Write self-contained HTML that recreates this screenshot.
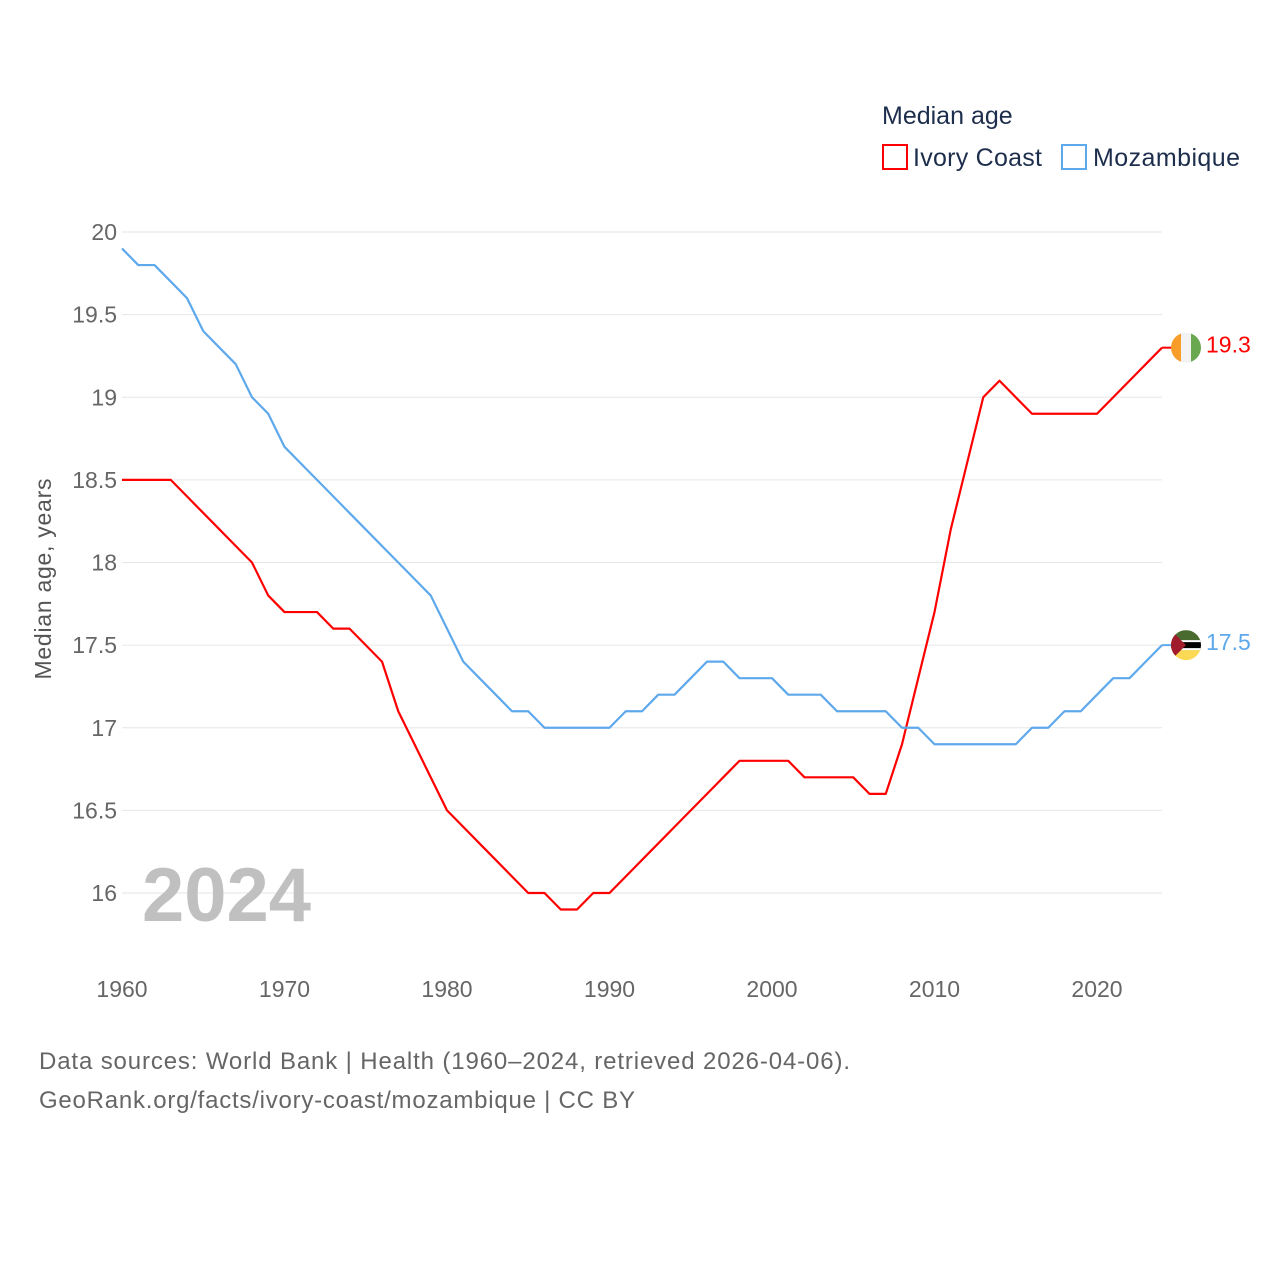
<!DOCTYPE html>
<html><head><meta charset="utf-8"><style>
html,body{margin:0;padding:0;background:#fff;}
body{width:1280px;height:1280px;overflow:hidden;font-family:"Liberation Sans",sans-serif;}
</style></head><body>
<svg id="chart" width="1280" height="1280" xmlns="http://www.w3.org/2000/svg" font-family="Liberation Sans, sans-serif">
<g>
<text x="882" y="124" font-size="25" fill="#1d2e4c">Median age</text>
<rect x="883" y="145" width="24" height="24" fill="none" stroke="#ff0000" stroke-width="2"/>
<text x="913" y="166" font-size="25" fill="#1d2e4c" textLength="129">Ivory Coast</text>
<rect x="1062" y="145" width="24" height="24" fill="none" stroke="#5ea8ec" stroke-width="2"/>
<text x="1093" y="166" font-size="25" fill="#1d2e4c" textLength="147">Mozambique</text>
</g>
<g id="grid"></g>
<g id="yticks"></g>
<g id="xticks"></g>
<text transform="translate(51,579) rotate(-90)" text-anchor="middle" font-size="23" fill="#555" textLength="201">Median age, years</text>
<text x="142" y="921" font-size="76" font-weight="bold" fill="#c0c0c0">2024</text>
<g id="series"></g>
<text x="39" y="1069" font-size="24" fill="#666" textLength="811">Data sources: World Bank | Health (1960–2024, retrieved 2026-04-06).</text>
<text x="39" y="1108" font-size="24" fill="#666" textLength="596">GeoRank.org/facts/ivory-coast/mozambique | CC BY</text>
</svg>
<script>
const years = [];
for (let y = 1960; y <= 2024; y++) years.push(y);
const ivoryCoast = [18.5,18.5,18.5,18.5,18.4,18.3,18.2,18.1,18.0,17.8,17.7,17.7,17.7,17.6,17.6,17.5,17.4,17.1,16.9,16.7,16.5,16.4,16.3,16.2,16.1,16.0,16.0,15.9,15.9,16.0,16.0,16.1,16.2,16.3,16.4,16.5,16.6,16.7,16.8,16.8,16.8,16.8,16.7,16.7,16.7,16.7,16.6,16.6,16.9,17.3,17.7,18.2,18.6,19.0,19.1,19.0,18.9,18.9,18.9,18.9,18.9,19.0,19.1,19.2,19.3];
const mozambique = [19.9,19.8,19.8,19.7,19.6,19.4,19.3,19.2,19.0,18.9,18.7,18.6,18.5,18.4,18.3,18.2,18.1,18.0,17.9,17.8,17.6,17.4,17.3,17.2,17.1,17.1,17.0,17.0,17.0,17.0,17.0,17.1,17.1,17.2,17.2,17.3,17.4,17.4,17.3,17.3,17.3,17.2,17.2,17.2,17.1,17.1,17.1,17.1,17.0,17.0,16.9,16.9,16.9,16.9,16.9,16.9,17.0,17.0,17.1,17.1,17.2,17.3,17.3,17.4,17.5];
const yTicks = [16,16.5,17,17.5,18,18.5,19,19.5,20];
const xTicks = [1960,1970,1980,1990,2000,2010,2020];

const NS = "http://www.w3.org/2000/svg";
const xS = y => 122 + (y - 1960) * (975 / 60);
const yS = v => 893 - (v - 16) * 165.25;
function mk(tag, attrs, parent) {
  const e = document.createElementNS(NS, tag);
  for (const k in attrs) e.setAttribute(k, attrs[k]);
  parent.appendChild(e); return e;
}
const grid = document.getElementById('grid'), yt = document.getElementById('yticks'), xt = document.getElementById('xticks'), ser = document.getElementById('series');
yTicks.forEach(v => {
  const l = mk('line', {x1:122, x2:1162, y1:yS(v), y2:yS(v), stroke:'#e6e6e6', 'stroke-width':1}, grid);
  
  
  const t = mk('text', {x:117, y:yS(v)+8, 'text-anchor':'end', 'font-size':23, fill:'#666'}, yt);
  
  
  t.textContent = v;
});
xTicks.forEach(v => {
  const t = mk('text', {x:xS(v), y:997, 'text-anchor':'middle', 'font-size':23, fill:'#666'}, xt);
  
  
  t.textContent = v;
});
function drawLine(vals, color, name) {
  const d = vals.map((v,i) => (i?'L':'M') + xS(years[i]).toFixed(2) + ',' + yS(v).toFixed(2)).join(' ');
  const p = mk('path', {d:d, fill:'none', stroke:color, 'stroke-width':2.2, 'stroke-linejoin':'round'}, ser);
  
  
  const last = vals[vals.length-1], ly = yS(last), lx = xS(years[years.length-1]);
  const c = mk('line', {x1:lx, x2:lx+10, y1:ly, y2:ly, stroke:color, 'stroke-width':2}, ser);
  
  
  const t = mk('text', {x:1206, y:ly+5, 'font-size':23, fill:color}, ser);
  
  
  t.textContent = last;
  return ly;
}
const yIC = drawLine(ivoryCoast, '#ff0000', 'ivory-coast');
const yMZ = drawLine(mozambique, '#5ea8ec', 'mozambique');
const g1 = mk('g', {}, ser);


const cp1 = mk('clipPath', {id:'c1'}, g1); mk('circle', {cx:1186, cy:yIC, r:15}, cp1);
mk('rect', {x:1171, y:yIC-15, width:10, height:30, fill:'#f99d2a', 'clip-path':'url(#c1)'}, g1);
mk('rect', {x:1181, y:yIC-15, width:10, height:30, fill:'#f2f2f2', 'clip-path':'url(#c1)'}, g1);
mk('rect', {x:1191, y:yIC-15, width:10, height:30, fill:'#6aa84f', 'clip-path':'url(#c1)'}, g1);
const g2 = mk('g', {}, ser);


const cp2 = mk('clipPath', {id:'c2'}, g2); mk('circle', {cx:1186, cy:yMZ, r:15}, cp2);
mk('rect', {x:1171, y:yMZ-15, width:30, height:10, fill:'#4a6b2f', 'clip-path':'url(#c2)'}, g2);
mk('rect', {x:1171, y:yMZ-5, width:30, height:10, fill:'#000', 'clip-path':'url(#c2)'}, g2);
mk('rect', {x:1171, y:yMZ-5, width:30, height:2, fill:'#fff', 'clip-path':'url(#c2)'}, g2);
mk('rect', {x:1171, y:yMZ+3, width:30, height:2, fill:'#fff', 'clip-path':'url(#c2)'}, g2);
mk('rect', {x:1171, y:yMZ+5, width:30, height:10, fill:'#fcd955', 'clip-path':'url(#c2)'}, g2);
mk('polygon', {points:`1171,${yMZ-15} 1186,${yMZ} 1171,${yMZ+15}`, fill:'#a01c2c', 'clip-path':'url(#c2)'}, g2);
</script>
</body></html>
